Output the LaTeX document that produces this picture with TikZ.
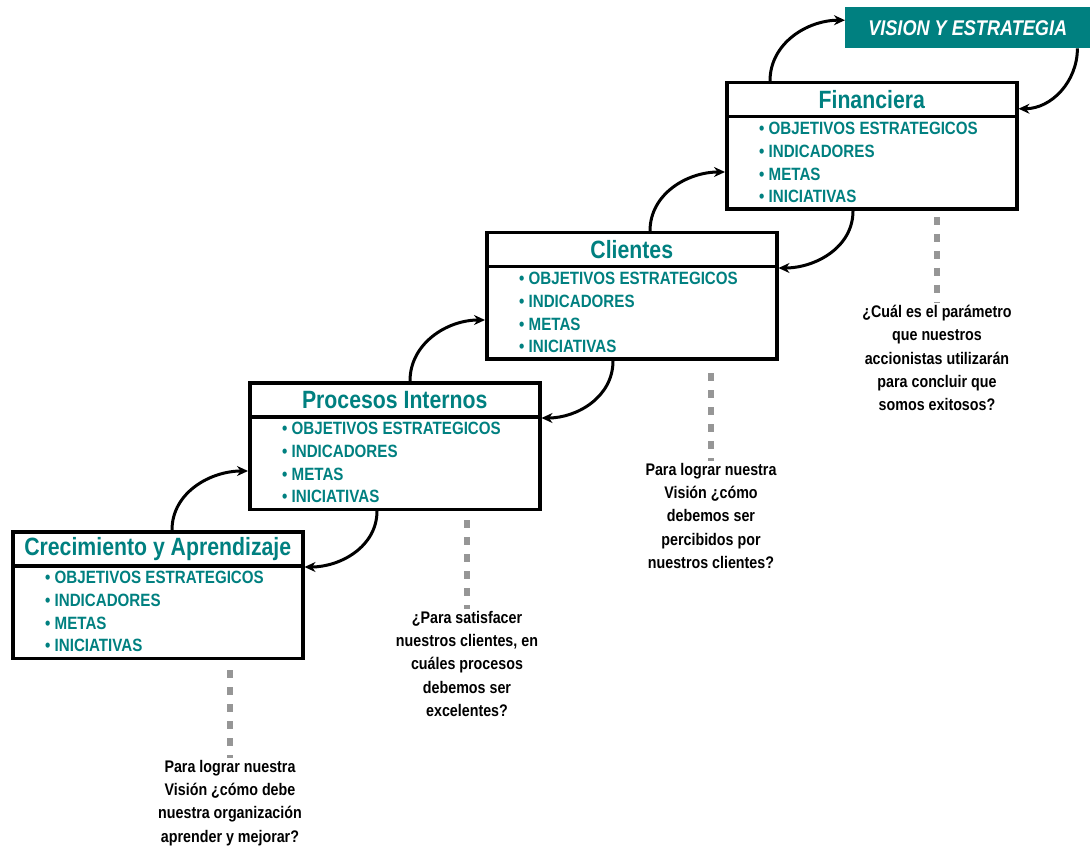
\documentclass[tikz,border=0pt]{standalone}
\usepackage{fontspec}
\setmainfont{Liberation Sans}
\newfontfamily\nfont[FakeStretch=0.85]{Liberation Sans}
\usetikzlibrary{arrows.meta}
\definecolor{bscteal}{RGB}{0,128,128}
\definecolor{dashgray}{RGB}{150,150,150}

\tikzset{
  frame/.style={draw=black, line width=3.5pt, fill=white, minimum width=290pt,
                inner sep=0pt, anchor=north west},
  hdr/.style={frame, minimum height=34pt, text=bscteal,
              font=\nfont\bfseries\fontsize{25}{25}\selectfont},
  bdy/.style={frame, minimum height=92.5pt},
  item/.style={anchor=base west, inner sep=0pt, text=bscteal,
               font=\nfont\bfseries\fontsize{17.8}{20}\selectfont},
  flow/.style={draw=black, line width=3pt, -{Stealth[length=11pt,width=10pt]}},
  guide/.style={draw=dashgray, line width=6pt, dash pattern=on 8pt off 9pt},
  question/.style={anchor=north, inner sep=0pt, align=center,
                   font=\nfont\bfseries\fontsize{16.8}{23.3}\selectfont},
  vision/.style={fill=bscteal, minimum width=245pt, minimum height=41pt,
                 inner sep=0pt, anchor=north west, text=white,
                 font=\nfont\bfseries\itshape\fontsize{21.3}{22}\selectfont},
}

% one perspective box: name, left x, top y, title
\newcommand\bscbox[4]{%
  \node[hdr] (#1h) at (#2,#3) {#4};
  \node[bdy] (#1b) at (#2,#3+34) {};
  \node[item] (#1o) at (#2+34,#3+53.5) {• OBJETIVOS ESTRATEGICOS};
  \node[item] (#1n) at (#2+34,#3+76.5) {• INDICADORES};
  \node[item] (#1m) at (#2+34,#3+99.5) {• METAS};
  \node[item] (#1i) at (#2+34,#3+121.5) {• INICIATIVAS};
}

\begin{document}
\begin{tikzpicture}[x=1pt,y=-1pt]
\useasboundingbox (0,0) rectangle (1090,850);

% perspectives, climbing from bottom left to top right
\bscbox{fin}{725}{81}{Financiera}
\bscbox{cli}{485}{231}{Clientes}
\bscbox{proc}{248}{381}{Procesos Internos}
\bscbox{crec}{11}{530}{Crecimiento y Aprendizaje}

\node[vision] (vis) at (845,7) {VISION Y ESTRATEGIA};

% guiding questions
\node[question] (finq) at (937,305)
  {¿Cuál es el parámetro\\que nuestros\\accionistas utilizarán\\para concluir que\\somos exitosos?};
\node[question] (cliq) at (711,463)
  {Para lograr nuestra\\Visión ¿cómo\\debemos ser\\percibidos por\\nuestros clientes?};
\node[question] (procq) at (467,611)
  {¿Para satisfacer\\nuestros clientes, en\\cuáles procesos\\debemos ser\\excelentes?};
\node[question] (crecq) at (230,760)
  {Para lograr nuestra\\Visión ¿cómo debe\\nuestra organización\\aprender y mejorar?};

% dotted leaders from each box to its question
\draw[guide] ([yshift=-6pt]finb.south -| finq.north) -- ([yshift=2pt]finq.north);
\draw[guide] ([yshift=-12pt]clib.south -| cliq.north) -- ([yshift=2pt]cliq.north);
\draw[guide] ([yshift=-9pt]procb.south -| procq.north) -- ([yshift=2pt]procq.north);
\draw[guide] ([yshift=-10pt]crecb.south -| crecq.north) -- ([yshift=2pt]crecq.north);

% upward flow
\draw[flow] ([xshift=161pt]crech.north west) to[out=90,in=180] ([yshift=-56pt]procb.north west);
\draw[flow] ([xshift=162pt]proch.north west) to[out=90,in=180] ([yshift=-55pt]clib.north west);
\draw[flow] ([xshift=165pt]clih.north west) to[out=90,in=180] ([yshift=-57pt]finb.north west);
\draw[flow] ([xshift=45pt]finh.north west) to[out=90,in=180] ([yshift=7.5pt]vis.west);

% downward feedback
\draw[flow] ([xshift=-13pt]vis.south east) to[out=-90,in=0] ([yshift=-9pt]finh.east);
\draw[flow] ([xshift=128pt]finb.south west) to[out=-90,in=0] ([yshift=-3pt]clib.north east);
\draw[flow] ([xshift=128pt]clib.south west) to[out=-90,in=0] ([yshift=-3pt]procb.north east);
\draw[flow] ([xshift=129pt]procb.south west) to[out=-90,in=0] ([yshift=-3pt]crecb.north east);
\end{tikzpicture}
\end{document}
